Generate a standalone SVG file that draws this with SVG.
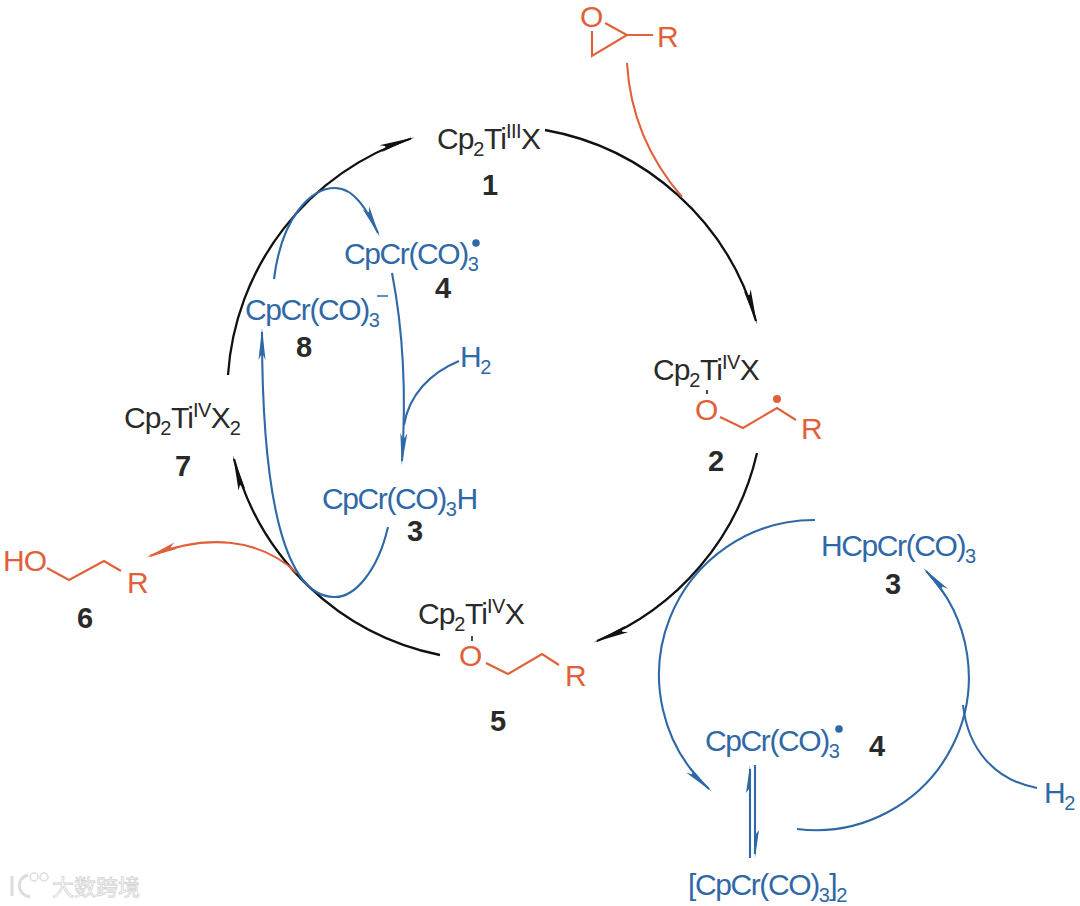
<svg xmlns="http://www.w3.org/2000/svg" width="1080" height="906" viewBox="0 0 1080 906">
<style>
text{font-family:"Liberation Sans",Arial,sans-serif;font-size:30px;letter-spacing:-1px}
.k{fill:#2a2a2a}.b{fill:#2f68a6;letter-spacing:-1.400px}.o{fill:#e0603a}
.n{font-weight:bold;font-size:29px;letter-spacing:0;fill:#2a2a2a;text-anchor:middle}
.s{font-size:20px;letter-spacing:-.5px}
path{fill:none;stroke-linecap:butt}
.lk{stroke:#111;stroke-width:2.3}.lb{stroke:#2f68a6;stroke-width:2.1}.lo{stroke:#e0603a;stroke-width:2.1}
.wm{font-family:"Noto Sans CJK SC","Liberation Sans",sans-serif;font-size:22px;letter-spacing:0;fill:#fff;stroke:#d4d4d4;stroke-width:.8}
.wl{stroke:#dcdcdc;stroke-width:1.500;fill:none}
</style>
<defs>
<marker id="ak" markerUnits="userSpaceOnUse" markerWidth="50" markerHeight="14" refX="38" refY="7" orient="auto" overflow="visible"><polygon points="42,7 6,3.500 11,6 11,8 6,10.500" fill="#111"/></marker>
<marker id="ab" markerUnits="userSpaceOnUse" markerWidth="50" markerHeight="14" refX="38" refY="7" orient="auto" overflow="visible"><polygon points="42,7 10,3.500 15,6 15,8 10,10.500" fill="#2f68a6"/></marker>
<marker id="ah" markerUnits="userSpaceOnUse" markerWidth="50" markerHeight="14" refX="38" refY="7" orient="auto" overflow="visible"><polygon points="42,7 14,3 18,6 18,8" fill="#2f68a6"/></marker>
<marker id="ao" markerUnits="userSpaceOnUse" markerWidth="50" markerHeight="14" refX="38" refY="7" orient="auto" overflow="visible"><polygon points="42,7 10,3.500 15,6 15,8 10,10.500" fill="#e0603a"/></marker>
</defs>
<g id="connectors">
<path class="lk" d="M228 375A268 268 0 0 1 411 138.500" marker-end="url(#ak)"/>
<path class="lk" d="M545 130A268 268 0 0 1 756 321" marker-end="url(#ak)"/>
<path class="lk" d="M757 453A268 268 0 0 1 597 641" marker-end="url(#ak)"/>
<path class="lk" d="M440 655A268 268 0 0 1 234 459" marker-end="url(#ak)"/>
<path class="lo" d="M627 63C630 115 650 160 682 197"/>
<path class="lo" d="M297 573C258 537 205 534 150 556" marker-end="url(#ao)"/>
<path class="lb" d="M274 279C282 215 312 188 335 188C355 188 368 212 378 233" marker-end="url(#ab)"/>
<path class="lb" d="M392 273C405 340 406 400 402 461" marker-end="url(#ab)"/>
<path class="lb" d="M459 361C430 373 409 395 404 425"/>
<path class="lb" d="M388 527C378 570 355 598 334 597C285 596 262 500 262 332" marker-end="url(#ab)"/>
<path class="lb" d="M815 520A155 155 0 0 0 709 789" marker-end="url(#ab)"/>
<path class="lb" d="M797 829A153 153 0 0 0 926 571" marker-end="url(#ab)"/>
<path class="lb" d="M1037 788C995 780 968 750 963 705"/>
<path class="lb" d="M750 858V769" marker-end="url(#ah)"/>
<path class="lb" d="M755 765V854" marker-end="url(#ah)"/>
</g>
<g id="node-1"><text class="k" x="437" y="149">Cp<tspan class="s" dy="7">2</tspan><tspan dy="-7">Ti</tspan><tspan class="s" dy="-11">III</tspan><tspan dy="11">X</tspan></text><text class="n" x="490" y="195">1</text></g>
<g id="node-2"><text class="k" x="653" y="380">Cp<tspan class="s" dy="7">2</tspan><tspan dy="-7">Ti</tspan><tspan class="s" dy="-11">IV</tspan><tspan dy="11">X</tspan></text>
<path class="lk" style="stroke-width:1.500" d="M707 390V394"/>
<text class="o" x="695" y="420">O</text><text class="o" x="801" y="439">R</text>
<path class="lo" d="M720 417L743 428L777 408L796 420"/><circle cx="777" cy="399" r="4" fill="#e0603a"/>
<text class="n" x="716" y="471">2</text></g>
<g id="node-3-cp"><text class="b" x="322" y="509">CpCr(CO)<tspan class="s" dy="7">3</tspan><tspan dy="-7">H</tspan></text><text class="n" x="415" y="541">3</text></g>
<g id="node-4-cp"><text class="b" x="344" y="264">CpCr(CO)<tspan class="s" dy="7">3</tspan></text><circle cx="476" cy="243" r="3.800" fill="#2f68a6"/><text class="n" x="443" y="298">4</text></g>
<g id="node-8"><text class="b" x="245" y="320">CpCr(CO)<tspan class="s" dy="7">3</tspan></text><path class="lb" style="stroke-width:1.500" d="M377 296H388"/><text class="n" x="304" y="357">8</text></g>
<g id="node-h2-left"><text class="b" x="460" y="367">H<tspan class="s" dy="7">2</tspan></text></g>
<g id="node-7"><text class="k" x="124" y="428">Cp<tspan class="s" dy="7">2</tspan><tspan dy="-7">Ti</tspan><tspan class="s" dy="-11">IV</tspan><tspan dy="11">X</tspan><tspan class="s" dy="7">2</tspan></text><text class="n" x="183" y="476">7</text></g>
<g id="node-5"><text class="k" x="418" y="624">Cp<tspan class="s" dy="7">2</tspan><tspan dy="-7">Ti</tspan><tspan class="s" dy="-11">IV</tspan><tspan dy="11">X</tspan></text>
<path class="lk" style="stroke-width:1.500" d="M472 636V641"/>
<text class="o" x="459" y="666">O</text><text class="o" x="565" y="686">R</text>
<path class="lo" d="M486 663L508 674L542 654L559 665"/><text class="n" x="498" y="731">5</text></g>
<g id="node-6"><text class="o" x="3" y="571">HO</text><text class="o" x="127" y="593">R</text><path class="lo" d="M47 568L69 580L104 561L121 571"/><text class="n" x="85" y="628">6</text></g>
<g id="node-epoxide"><text class="o" x="580" y="27">O</text><text class="o" x="657" y="47">R</text><path class="lo" d="M605 23L627 35L592 56V31M627 35H653"/></g>
<g id="node-3-right"><text class="b" x="821" y="556">HCpCr(CO)<tspan class="s" dy="7">3</tspan></text><text class="n" x="893" y="594">3</text></g>
<g id="node-4-right"><text class="b" x="705" y="751">CpCr(CO)<tspan class="s" dy="7">3</tspan></text><circle cx="839" cy="729" r="3.800" fill="#2f68a6"/><text class="n" x="877" y="756">4</text></g>
<g id="node-dimer"><text class="b" x="688" y="895">[CpCr(CO)<tspan class="s" dy="7">3</tspan><tspan dy="-7">]</tspan><tspan class="s" dy="7">2</tspan></text></g>
<g id="node-h2-right"><text class="b" x="1044" y="803">H<tspan class="s" dy="7">2</tspan></text></g>
<g id="watermark"><path class="wl" style="stroke-width:3" d="M12 876V896M28 875C16 878 16 894 30 897"/><circle class="wl" cx="34" cy="877" r="4"/><circle class="wl" cx="44" cy="877" r="4"/><text class="wm" x="52" y="895">大数跨境</text></g>
</svg>
